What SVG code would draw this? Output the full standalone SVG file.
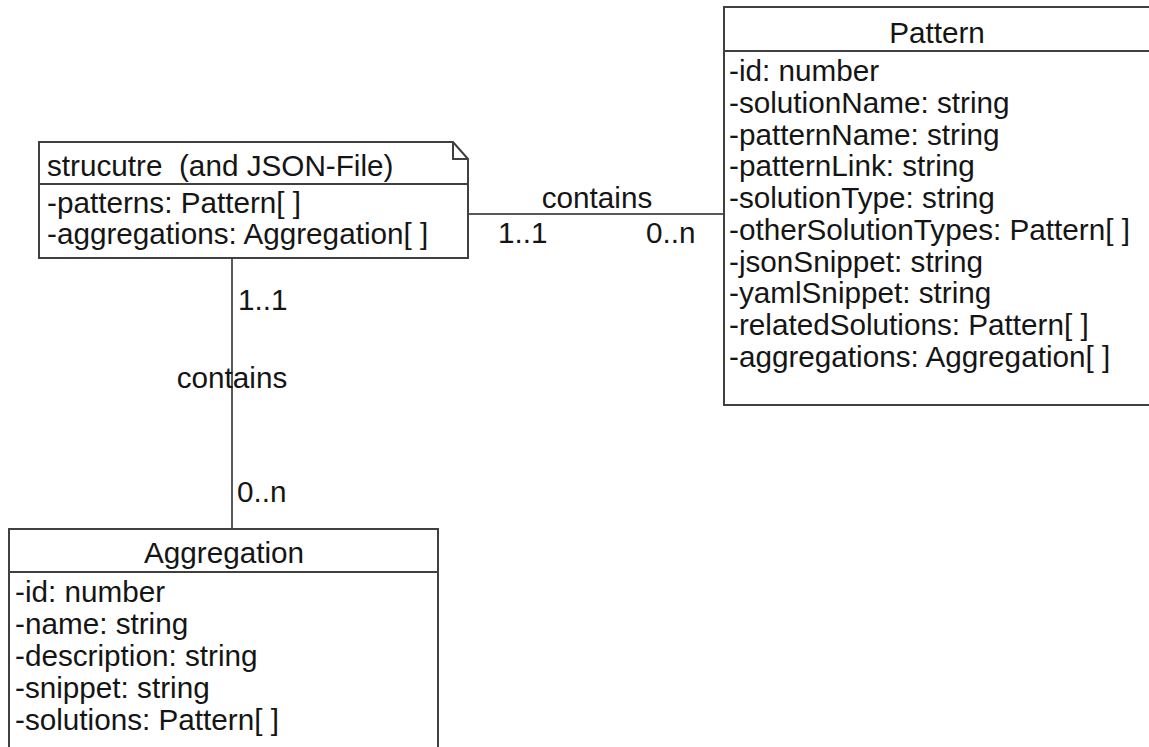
<svg xmlns="http://www.w3.org/2000/svg" width="1149" height="747" viewBox="0 0 1149 747">
<style>
text{font-family:"Liberation Sans",Arial,sans-serif;font-size:29.7px;fill:#151515}
.t{text-anchor:middle}
.box{fill:#fff;stroke:#404040;stroke-width:2}
.div{stroke:#404040;stroke-width:2;fill:none}
.conn{stroke:#222;stroke-width:1.5;fill:none}
</style>
<rect width="1149" height="747" fill="#fff"/>
<g id="connectors">
<line class="conn" x1="468" y1="214" x2="724" y2="214"/>
<line class="conn" x1="232" y1="258" x2="232" y2="529"/>
<text class="t" x="597" y="208">contains</text>
<text x="498" y="243">1..1</text>
<text x="646" y="243">0..n</text>
<text x="238" y="310">1..1</text>
<text class="t" x="232" y="388">contains</text>
<text x="237" y="502">0..n</text>
</g>
<g id="structure">
<path class="box" d="M39,142 H453 L468,159 V258 H39 Z"/>
<path class="div" d="M453,142 V159 H468"/>
<line class="div" x1="39" y1="184" x2="468" y2="184"/>
<text x="47" y="176" xml:space="preserve">strucutre  (and JSON-File)</text>
<text x="47" y="213">-patterns: Pattern[ ]</text>
<text x="47" y="244">-aggregations: Aggregation[ ]</text>
</g>
<g id="pattern">
<rect class="box" x="724" y="7" width="426" height="398"/>
<line class="div" x1="724" y1="51" x2="1150" y2="51"/>
<text class="t" x="937" y="43">Pattern</text>
<text x="729" y="81">-id: number</text>
<text x="729" y="112.75">-solutionName: string</text>
<text x="729" y="144.5">-patternName: string</text>
<text x="729" y="176.25">-patternLink: string</text>
<text x="729" y="208">-solutionType: string</text>
<text x="729" y="239.75">-otherSolutionTypes: Pattern[ ]</text>
<text x="729" y="271.5">-jsonSnippet: string</text>
<text x="729" y="303.25">-yamlSnippet: string</text>
<text x="729" y="335">-relatedSolutions: Pattern[ ]</text>
<text x="729" y="366.75">-aggregations: Aggregation[ ]</text>
</g>
<g id="aggregation">
<rect class="box" x="9" y="529" width="429" height="230"/>
<line class="div" x1="9" y1="572" x2="438" y2="572"/>
<text class="t" x="224" y="563">Aggregation</text>
<text x="15" y="601.5">-id: number</text>
<text x="15" y="633.5">-name: string</text>
<text x="15" y="665.5">-description: string</text>
<text x="15" y="697.5">-snippet: string</text>
<text x="15" y="729.5">-solutions: Pattern[ ]</text>
</g>
</svg>
